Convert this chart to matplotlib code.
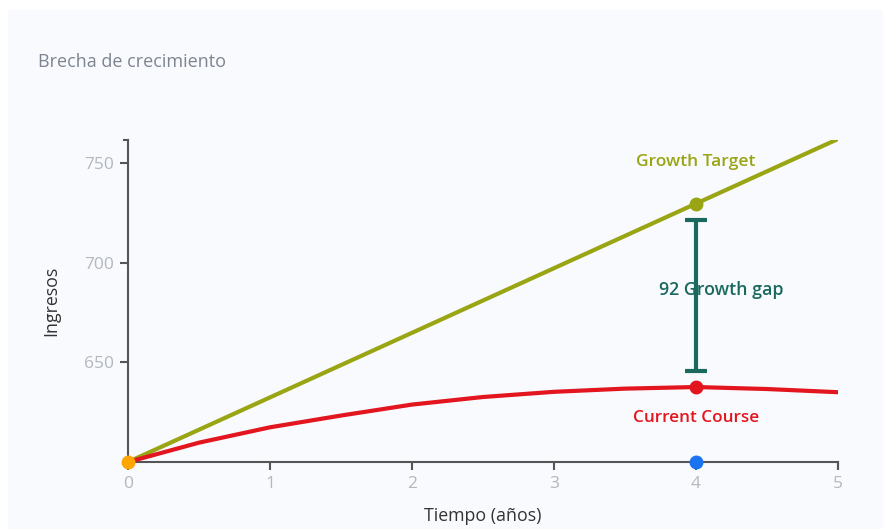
#!/usr/bin/env python3
"""Brecha de crecimiento: target vs current course revenue chart."""

import matplotlib
matplotlib.use("Agg")
import matplotlib.pyplot as plt

# ── Data ──────────────────────────────────────────────────────────────────────
years = [0, 0.5, 1, 1.5, 2, 2.5, 3, 3.5, 4, 4.5, 5]
target = [600, 616.2, 632.4, 648.6, 664.8, 681.0, 697.2, 713.4, 729.6, 745.8, 762.0]
current = [600, 609.7, 617.4, 623.3, 628.8, 632.6, 635.2, 636.8, 637.6, 636.6, 635.0]
gap_year = 4
gap_value = 92
x_ticks = [0, 1, 2, 3, 4, 5]
y_ticks = [650, 700, 750]

# ── Style ─────────────────────────────────────────────────────────────────────
plt.rcParams.update({'font.family': ['Open Sans', 'DejaVu Sans']})
BG = '#f8fafd'
GREEN = '#9aa514'
RED = '#e3151f'
TEAL = '#19695f'
BLUE = '#1a73f0'
ORANGE = '#ffa600'
AXIS = '#555555'
TICKLBL = '#b3b8bf'

fig = plt.figure(figsize=(8.83, 5.29), dpi=100, facecolor='white')
fig.patches.append(plt.Rectangle((8 / 883, 0), 1, 1 - 10 / 529,
                                 transform=fig.transFigure, color=BG, zorder=-1))
ax = fig.add_axes([128 / 883, (529 - 462) / 529, 710 / 883, 322 / 529])
ax.set_facecolor(BG)

ax.plot(years, target, color=GREEN, lw=3, solid_capstyle='round', zorder=3)
ax.plot(years, current, color=RED, lw=3, solid_capstyle='round', zorder=3)

i4 = years.index(gap_year)
t4, c4 = target[i4], current[i4]
ax.plot([gap_year], [t4], 'o', color=GREEN, ms=9, zorder=4)
ax.plot([gap_year], [c4], 'o', color=RED, ms=9, zorder=4)
ax.plot([0], [600], 'o', color=ORANGE, ms=9, zorder=5, clip_on=False)
ax.plot([gap_year], [600], 'o', color=BLUE, ms=9, zorder=5, clip_on=False)

# gap marker
half = (t4 - c4) / 2 - 8
ax.errorbar([gap_year], [(t4 + c4) / 2], yerr=[[half], [half]],
            fmt='none', ecolor=TEAL, elinewidth=3, capsize=8, capthick=3, zorder=4)
ax.annotate(f'{gap_value} Growth gap', (gap_year, (t4 + c4) / 2), xytext=(18, 4),
            textcoords='offset points', ha='center', va='center',
            color=TEAL, fontsize=12.8, fontweight='semibold', zorder=6)
ax.annotate('Growth Target', (gap_year, t4), xytext=(0, 30),
            textcoords='offset points', ha='center', va='center',
            color=GREEN, fontsize=12.5, fontweight='semibold')
ax.annotate('Current Course', (gap_year, c4), xytext=(0, -22),
            textcoords='offset points', ha='center', va='center',
            color=RED, fontsize=12.3, fontweight='semibold')

ax.set_xlim(0, 5)
ax.set_ylim(600, 761.5)
ax.set_xticks(x_ticks)
ax.set_yticks(y_ticks)
for s in ['top', 'right']:
    ax.spines[s].set_visible(False)
for s in ['left', 'bottom']:
    ax.spines[s].set_color(AXIS)
    ax.spines[s].set_linewidth(1.5)
ax.tick_params(direction='out', length=6, width=1.5, color=AXIS,
               labelcolor=TICKLBL, labelsize=12.5, pad=4)
# outer end ticks like d3
ax.plot([0, -0.03], [761.5, 761.5], color=AXIS, lw=1.5, clip_on=False)
ax.plot([5, 5], [600, 597], color=AXIS, lw=1.5, clip_on=False)

ax.set_xlabel('Tiempo (años)', fontsize=12.8, color='#333333')
ax.xaxis.set_label_coords(0.5, -45 / 322)
ax.set_ylabel('Ingresos', fontsize=12.8, color='#333333')
ax.yaxis.set_label_coords(-68 / 710, 0.5)

fig.text(38 / 883, 1 - 62 / 529, 'Brecha de crecimiento', fontsize=13,
         color='#7d8590', va='center', ha='left')

fig.savefig('out.png', dpi=100, facecolor=fig.get_facecolor())
plt.close()
